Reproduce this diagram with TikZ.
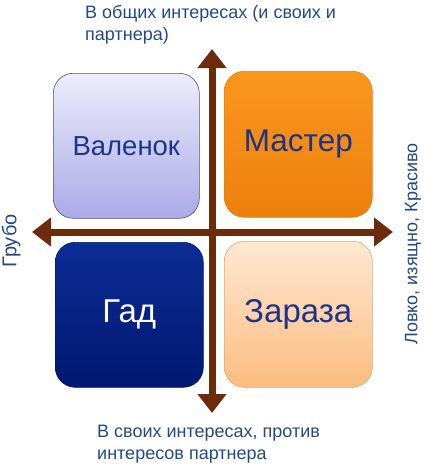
\documentclass[tikz,border=0pt]{standalone}
\usepackage{fontspec}
\setmainfont{Liberation Sans}
\usetikzlibrary{arrows.meta}
\definecolor{arrowc}{RGB}{108,44,12}
\definecolor{lblc}{RGB}{34,72,140}
\definecolor{boxtxt}{RGB}{28,52,140}
\definecolor{valtop}{RGB}{236,236,250}
\definecolor{valbot}{RGB}{170,170,232}
\definecolor{valbd}{RGB}{80,80,130}
\definecolor{mastop}{RGB}{250,150,30}
\definecolor{masbot}{RGB}{236,128,12}
\definecolor{gadtop}{RGB}{12,44,150}
\definecolor{gadbot}{RGB}{0,24,112}
\definecolor{zartop}{RGB}{254,232,210}
\definecolor{zarbot}{RGB}{251,188,128}
\definecolor{zarbd}{RGB}{220,170,120}
\tikzset{
  quad/.style={rounded corners=20pt, minimum width=#1, inner sep=0pt, anchor=north west},
  axis/.style={draw=arrowc, line width=7pt, {Triangle[width=28pt,length=19pt]}-{Triangle[width=28pt,length=19pt]}},
  lbl/.style={text=lblc, font=\fontsize{18}{21.5}\selectfont, align=left, inner sep=0pt},
  big/.style={font=\fontsize{#1}{#1}\selectfont}
}
\begin{document}
\begin{tikzpicture}[x=1pt,y=-1pt]
\useasboundingbox (0,0) rectangle (424,467);
\node[quad=146pt, minimum height=145pt, top color=valtop, bottom color=valbot, draw=valbd, line width=0.6pt] (val) at (53,73) {};
\node[quad=148pt, minimum height=146pt, top color=mastop, bottom color=masbot, draw=masbot, line width=0.6pt] (mas) at (224,71) {};
\node[quad=148pt, minimum height=145pt, top color=gadtop, bottom color=gadbot, draw=gadbot, line width=0.6pt] (gad) at (55,242) {};
\node[quad=148pt, minimum height=146pt, top color=zartop, bottom color=zarbot, draw=zarbd, line width=0.6pt] (zar) at (224,241) {};
\node[big=27.5, text=boxtxt] (tval) at (val.center) {Валенок};
\node[big=31.5, text=boxtxt] (tmas) at (mas.center) {Мастер};
\node[big=33, text=white] (tgad) at (gad.center) {Гад};
\node[big=33, text=boxtxt] (tzar) at (zar.center) {Зараза};
\coordinate (top) at (212,49);
\coordinate (bot) at (212,413);
\coordinate (lft) at (32,232);
\coordinate (rgt) at (393,232);
\draw[axis] (bot) -- (top);
\draw[axis] (lft) -- (rgt);
\node[lbl, anchor=west] (ltop) at (85,25) {В общих интересах (и своих и\\партнера)};
\node[lbl, anchor=west] (lbot) at (97,444) {В своих интересах, против\\интересов партнера};
\node[lbl, rotate=90, font=\fontsize{20}{22}\selectfont] (llft) at (11,241) {Грубо};
\node[lbl, rotate=90] (lrgt) at (413,244) {Ловко, изящно, Красиво};
\end{tikzpicture}
\end{document}
